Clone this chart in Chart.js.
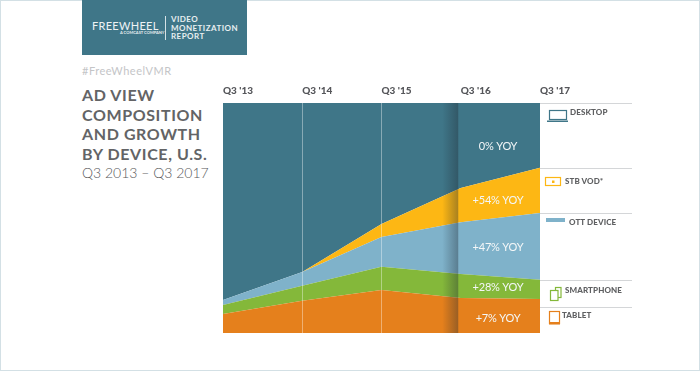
<!DOCTYPE html>
<html>
<head>
<meta charset="utf-8">
<script src="https://cdn.jsdelivr.net/npm/chart.js@4"></script>
<style>
  html, body { margin: 0; padding: 0; background: #fff; }
  body { width: 700px; height: 371px; position: relative; overflow: hidden; font-family: Lato, sans-serif; }
  #frame { position: absolute; left: 0; top: 0; width: 698px; height: 369px; border: 1px solid #d3e0e5; }
  #wrap { position: absolute; left: 0; top: 0; width: 700px; height: 371px; }
  .t { position: absolute; white-space: nowrap; }
  #banner { position: absolute; left: 82px; top: 0; width: 165px; height: 55px; background: #3f7688; }
  #title { left: 82px; top: 85px; font-size: 16px; line-height: 19.5px; font-weight: 700; color: #636466; letter-spacing: .6px; }
  #sub { left: 82px; top: 164px; font-size: 14px; font-weight: 300; color: #58595b; }
  #tag { left: 82px; top: 64px; font-size: 11px; color: #c4c5c7; letter-spacing: .5px; }
  .key { position: absolute; white-space: nowrap; font-size: 8px; line-height: 10px; font-weight: 900; color: #5f6062; letter-spacing: .1px; }
</style>
</head>
<body>
<div id="frame"></div>
<div id="banner"></div>
<div class="t" style="left:92px;top:19px;font-size:11px;font-weight:400;color:#eef3f5;letter-spacing:.3px;">FREEWHEEL</div>
<div class="t" style="left:120px;top:30px;font-size:4px;font-weight:700;color:#e8eff1;">A COMCAST COMPANY</div>
<div style="position:absolute;left:165px;top:16px;width:1px;height:24px;background:#d5e2e6;"></div>
<div class="t" style="left:171px;top:15px;font-size:8px;line-height:8.7px;font-weight:700;color:#e8eff1;letter-spacing:.45px;">VIDEO<br>MONETIZATION<br>REPORT</div>
<div id="tag" class="t">#FreeWheelVMR</div>
<div id="title" class="t">AD VIEW<br>COMPOSITION<br>AND GROWTH<br>BY DEVICE, U.S.</div>
<div id="sub" class="t">Q3 2013 – Q3 2017</div>
<div id="wrap"><canvas id="c" width="700" height="371"></canvas></div>
<div class="key" style="left:570px;top:107px;">DESKTOP</div>
<div class="key" style="left:565px;top:176px;">STB VOD*</div>
<div class="key" style="left:569px;top:217px;">OTT DEVICE</div>
<div class="key" style="left:565px;top:285px;">SMARTPHONE</div>
<div class="key" style="left:562px;top:310px;">TABLET</div>
<script>
const quarters = ["Q3 '13", "Q3 '14", "Q3 '15", "Q3 '16", "Q3 '17"];
const tablet = [8.3, 14, 18.7, 15.2, 14.8];
const smartphone = [3.9, 6.5, 10.1, 10.4, 8.3];
const ott = [2.2, 6, 12.9, 22.6, 29.1];
const stb = [0, 0, 5.7, 14.8, 19.6];
const desktop = [85.6, 73.5, 52.6, 37, 28.2];
const yoy = ['+7% YOY', '+28% YOY', '+47% YOY', '+54% YOY', '0% YOY'];
const yoyAt = [6.5, 19.6, 37.4, 57.8, 81.3];
const keyLines = [100, 71.8, 52.2, 23.1, 11.3];
const deviceNames = ['TABLET', 'SMARTPHONE', 'OTT DEVICE', 'STB VOD*', 'DESKTOP'];
const colors = ['#e5801c', '#84b83a', '#7fb2ca', '#fdb714', '#3f7688'];

function area(label, data, color, i) {
  return {
    label, data,
    backgroundColor: color,
    borderWidth: 0,
    pointRadius: 0,
    tension: 0,
    fill: i === 0 ? 'origin' : '-1'
  };
}

function drawIcons(ctx) {
  ctx.lineWidth = 1.2;
  // desktop
  ctx.strokeStyle = colors[4];
  ctx.fillStyle = colors[4];
  ctx.strokeRect(549.5, 110.5, 17, 9);
  ctx.fillRect(547, 120.5, 21, 1.5);
  // stb
  ctx.strokeStyle = colors[3];
  ctx.fillStyle = colors[3];
  ctx.strokeRect(545.5, 177.5, 15, 8);
  ctx.fillRect(552, 180.5, 2.5, 2.5);
  // ott
  ctx.fillStyle = colors[2];
  ctx.fillRect(546, 218, 19, 4);
  // smartphone
  ctx.strokeStyle = colors[1];
  ctx.strokeRect(555.5, 287.5, 5.5, 10);
  ctx.fillStyle = '#fff';
  ctx.fillRect(550, 290, 8, 10);
  ctx.strokeRect(550.5, 290.5, 7.5, 10);
  // tablet
  ctx.strokeStyle = colors[0];
  ctx.fillStyle = colors[0];
  ctx.strokeRect(549.5, 311.5, 10, 12);
  ctx.fillRect(549, 322, 11, 2.5);
}

// shadow before Q3 '16, YOY labels and the device key on the right
const extras = {
  id: 'extras',
  afterDatasetsDraw(chart) {
    const { ctx, scales: { x, y } } = chart;
    const edge = x.getPixelForValue(3) - 2.5;
    const px17 = x.getPixelForValue(4);
    ctx.save();
    const g = ctx.createLinearGradient(edge - 16, 0, edge, 0);
    g.addColorStop(0, 'rgba(30,40,50,0)');
    g.addColorStop(1, 'rgba(30,40,50,.38)');
    ctx.fillStyle = g;
    ctx.fillRect(edge - 16, y.top, 16, y.bottom - y.top);

    ctx.fillStyle = '#f4f7f8';
    ctx.font = '11px Lato';
    ctx.letterSpacing = '-0.2px';
    ctx.textAlign = 'center';
    ctx.textBaseline = 'middle';
    yoy.forEach((label, i) => ctx.fillText(label, px17 - 42, y.getPixelForValue(yoyAt[i])));
    ctx.letterSpacing = '0px';

    ctx.strokeStyle = '#d4d6d8';
    ctx.lineWidth = 1;
    keyLines.forEach(v => {
      const l = Math.round(y.getPixelForValue(v)) + .5;
      ctx.beginPath();
      ctx.moveTo(px17, l);
      ctx.lineTo(632, l);
      ctx.stroke();
    });
    drawIcons(ctx);
    ctx.restore();
  }
};

new Chart(document.getElementById('c'), {
  type: 'line',
  data: {
    labels: quarters,
    datasets: [
      area(deviceNames[0], tablet, colors[0], 0),
      area(deviceNames[1], smartphone, colors[1], 1),
      area(deviceNames[2], ott, colors[2], 2),
      area(deviceNames[3], stb, colors[3], 3),
      area(deviceNames[4], desktop, colors[4], 4)
    ]
  },
  options: {
    responsive: false,
    animation: false,
    layout: { padding: { left: 223, right: 160, top: 79, bottom: 38 } },
    plugins: { legend: { display: false }, tooltip: { enabled: false } },
    scales: {
      x: {
        position: 'top',
        offset: false,
        border: { display: false },
        grid: {
          z: 1,
          drawTicks: false,
          color: c => (c.index === 1 || c.index === 2) ? 'rgba(255,255,255,.38)' : 'rgba(0,0,0,0)'
        },
        ticks: { align: 'start', font: { family: 'Lato', size: 10, weight: '900' }, color: '#55565a', padding: 6, maxRotation: 0 }
      },
      y: {
        display: false,
        stacked: true,
        min: 0,
        max: 100
      }
    }
  },
  plugins: [extras]
});
</script>
</body>
</html>
